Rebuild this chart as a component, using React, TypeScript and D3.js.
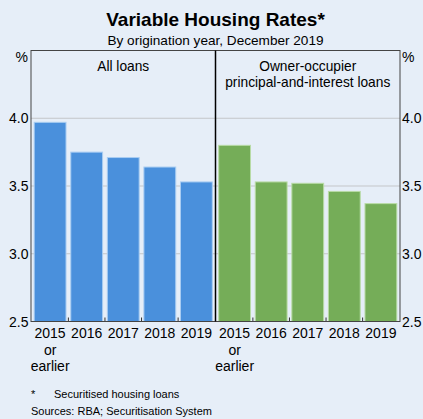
import React from "react";
import * as d3 from "d3";

const categories = ["2015|or|earlier", "2016", "2017", "2018", "2019"];
const allLoans = [3.97, 3.75, 3.71, 3.64, 3.53];
const ownerOccupierPI = [3.8, 3.53, 3.52, 3.46, 3.37];
const yTicks = [2.5, 3.0, 3.5, 4.0];
const panelTitles = [["All loans"], ["Owner-occupier", "principal-and-interest loans"]];

const W = 423, H = 419;
const left = 31, right = 400, top = 50.5, bottom = 321.5;
const mid = (left + right) / 2;
const font = "Liberation Sans, Arial, sans-serif";

export default function App() {
  const y = d3.scaleLinear().domain([2.5, 4.5]).range([bottom, top]);
  const panels = [
    { x0: left, x1: mid, data: allLoans, color: "#4a90dc", stroke: "#a9cdf2", title: panelTitles[0] },
    { x0: mid, x1: right, data: ownerOccupierPI, color: "#75ad58", stroke: "#b9dba6", title: panelTitles[1] },
  ];
  return (
    <svg width={W} height={H} style={{ position: "absolute", left: 0, top: 0 }} fontFamily={font}>
      <rect width={W} height={H} fill="#e6eef8" />
      <text x={W / 2 + 4} y={26} textAnchor="middle" fontSize={19} fontWeight="bold">Variable Housing Rates*</text>
      <text x={W / 2 + 4} y={45} textAnchor="middle" fontSize={13.6}>By origination year, December 2019</text>
      {yTicks.slice(1).map((t) => (
        <line key={t} x1={left} x2={right} y1={y(t)} y2={y(t)} stroke="#c4c6c9" strokeWidth={1} />
      ))}
      {panels.map((p, pi) => {
        const x = d3.scaleBand().domain(categories).range([p.x0 + 1, p.x1 - 1]).paddingInner(0.13).paddingOuter(0.06);
        return (
          <g key={pi}>
            {p.data.map((v, i) => (
              <rect key={i} x={x(categories[i])} y={y(v)} width={x.bandwidth()} height={bottom - y(v)}
                fill={p.color} stroke={p.stroke} strokeWidth={1} />
            ))}
            {categories.slice(1).map((c) => {
              const tx = (x(c) as number) - (x.step() - x.bandwidth()) / 2;
              return <line key={c} x1={tx} x2={tx} y1={bottom} y2={bottom - 4} stroke="#333" strokeWidth={1} />;
            })}
            {categories.map((c) => (
              <text key={c} textAnchor="middle" fontSize={14} fill="#000">
                {c.split("|").map((s, k) => (
                  <tspan key={k} x={(x(c) as number) + x.bandwidth() / 2} y={338 + k * 16.7}>{s}</tspan>
                ))}
              </text>
            ))}
            {p.title.map((s, k) => (
              <text key={k} x={(p.x0 + p.x1) / 2} y={70.5 + k * 16} textAnchor="middle" fontSize={13.75}>{s}</text>
            ))}
          </g>
        );
      })}
      <rect x={left} y={top} width={right - left} height={bottom - top} fill="none" stroke="#444" strokeWidth={1} />
      <line x1={mid} x2={mid} y1={top} y2={bottom} stroke="#000" strokeWidth={1.5} />
      {yTicks.map((t) => (
        <g key={t}>
          <text x={left - 2.5} y={y(t) + 5} textAnchor="end" fontSize={14}>{t.toFixed(1)}</text>
          <text x={right + 2} y={y(t) + 5} textAnchor="start" fontSize={14}>{t.toFixed(1)}</text>
        </g>
      ))}
      <text x={left - 3} y={61.5} textAnchor="end" fontSize={14}>%</text>
      <text x={right + 2} y={61.5} textAnchor="start" fontSize={14}>%</text>
      <text x={31} y={398} fontSize={11}>*</text>
      <text x={54} y={398} fontSize={11}>Securitised housing loans</text>
      <text x={31} y={415} fontSize={11}>Sources: RBA; Securitisation System</text>
    </svg>
  );
}
